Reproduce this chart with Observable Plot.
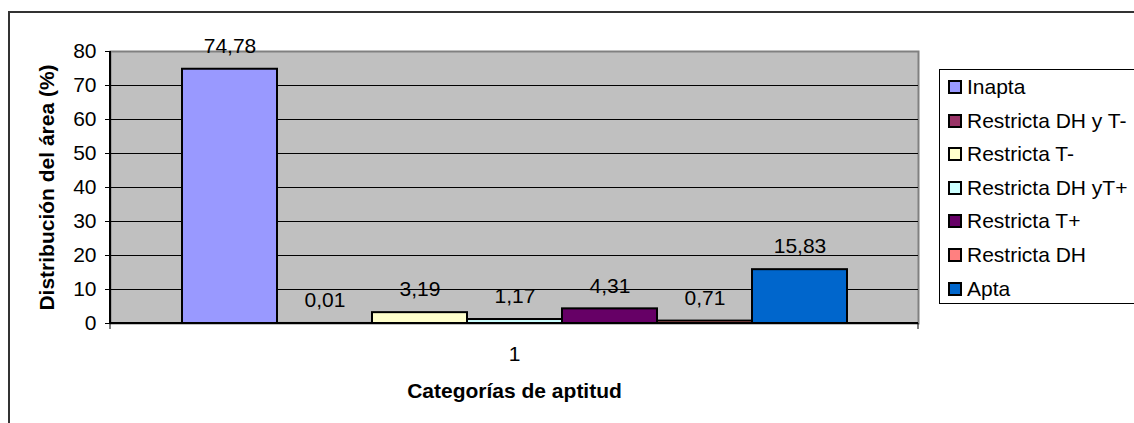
<!DOCTYPE html>
<html>
<head>
<meta charset="utf-8">
<script src="https://cdn.jsdelivr.net/npm/d3@7"></script>
<script src="https://cdn.jsdelivr.net/npm/@observablehq/plot@0.6"></script>
<style>
  html, body { margin: 0; padding: 0; background: #fff; }
  body { width: 1134px; height: 423px; position: relative; overflow: hidden; font-family: "Liberation Sans", Arial, sans-serif; }
  #chart { position: absolute; left: 0; top: 0; }
  #border { position: absolute; left: 8px; top: 11px; width: 1200px; height: 500px; border-left: 2px solid #333; border-top: 2px solid #333; pointer-events: none; }
  #legend { position: absolute; left: 939px; top: 69px; width: 240px; height: 235px; border: 1px solid #000; background: #fff; box-sizing: border-box; }
  .item { position: absolute; left: 8px; height: 22px; display: flex; align-items: center; font-size: 21px; color: #000; white-space: nowrap; }
  .sw { width: 10px; height: 10px; border: 2px solid #000; margin-right: 5px; flex: none; }
</style>
</head>
<body>
<div id="chart"></div>
<div id="border"></div>
<div id="legend"></div>
<script>
const categoryLabels = ["1"];
const series = ["Inapta", "Restricta DH y T-", "Restricta T-", "Restricta DH yT+", "Restricta T+", "Restricta DH", "Apta"];
const values = [74.78, 0.01, 3.19, 1.17, 4.31, 0.71, 15.83];
const colors = ["#9999FF", "#993366", "#FFFFCC", "#CCFFFF", "#660066", "#FF8080", "#0066CC"];
const yTicks = [0, 10, 20, 30, 40, 50, 60, 70, 80];
const yTitle = "Distribución del área (%)";
const xTitle = "Categorías de aptitud";

const data = series.map((s, i) => ({name: s, value: values[i]}));
const fmt = v => v.toFixed(2).replace(".", ",");
const FS = 21;

const chart = Plot.plot({
  width: 1134,
  height: 423,
  marginLeft: 110,
  marginRight: 216,
  marginTop: 51,
  marginBottom: 100,
  style: {fontFamily: "'Liberation Sans', Arial, sans-serif", fontSize: FS + "px", background: "transparent", color: "#000"},
  x: {domain: series, paddingInner: 0, paddingOuter: 0.745, axis: null},
  y: {domain: [0, 80], axis: null},
  color: {domain: series, range: colors},
  marks: [
    Plot.frame({fill: "#C0C0C0", stroke: "#808080", strokeWidth: 2}),
    Plot.ruleY(yTicks.slice(1, -1), {stroke: "#000", strokeWidth: 1}),
    Plot.axisY(yTicks, {tickSize: 5, tickPadding: 9, fontSize: FS, label: null, stroke: "#000"}),
    Plot.barY(data, {x: "name", y: "value", fill: "name", stroke: "#000", strokeWidth: 2}),
    Plot.text(data, {x: "name", y: "value", text: d => fmt(d.value), dy: -23, fontSize: FS, fill: "#000"}),
    Plot.text(categoryLabels, {frameAnchor: "bottom", lineAnchor: "middle", dy: 31, fontSize: FS, fill: "#000"}),
    Plot.text([xTitle], {frameAnchor: "bottom", lineAnchor: "middle", dy: 68, fontSize: FS, fontWeight: "bold", fill: "#000"}),
    Plot.text([yTitle], {frameAnchor: "left", textAnchor: "middle", lineAnchor: "middle", dx: -63, rotate: -90, fontSize: FS, fontWeight: "bold", fill: "#000"})
  ]
});
document.getElementById("chart").appendChild(chart);

// axis lines (left and bottom) and category boundary ticks, from the scales
const xr = chart.scale("x").range;
const yr = chart.scale("y").range;
const svg = d3.select(chart);
const g = svg.append("g");
const x0 = Math.min(...xr), x1 = Math.max(...xr);
const yb = Math.max(...yr), yt = Math.min(...yr);
g.append("line").attr("x1", x0).attr("x2", x0).attr("y1", yt).attr("y2", yb).attr("stroke", "#000").attr("stroke-width", 2);
g.append("line").attr("x1", x0).attr("x2", x1).attr("y1", yb).attr("y2", yb).attr("stroke", "#000").attr("stroke-width", 2);
[x0, x1].forEach(x => g.append("line").attr("x1", x).attr("x2", x).attr("y1", yb).attr("y2", yb + 6).attr("stroke", "#000").attr("stroke-width", 1));

// legend
const legend = d3.select("#legend");
series.forEach((s, i) => {
  const it = legend.append("div").attr("class", "item").style("top", (6 + i * 33.6) + "px");
  it.append("div").attr("class", "sw").style("background", colors[i]);
  it.append("span").text(s);
});
</script>
</body>
</html>
